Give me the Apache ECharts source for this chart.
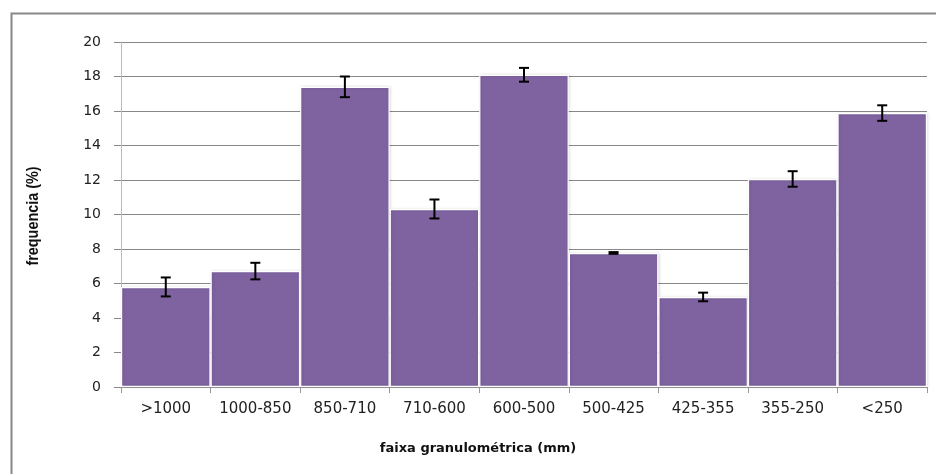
<!DOCTYPE html>
<html><head><meta charset="utf-8">
<script src="https://cdn.jsdelivr.net/npm/echarts@6/dist/echarts.min.js"></script>
<style>html,body{margin:0;padding:0;background:#fff}#c{width:936px;height:474px}</style>
</head><body><div id="c"></div>
<script>
const categories = ['>1000','1000-850','850-710','710-600','600-500','500-425','425-355','355-250','<250'];
const frequencia = [5.8, 6.72, 17.4, 10.32, 18.1, 7.77, 5.22, 12.06, 15.88];
const erro = [0.55, 0.48, 0.6, 0.55, 0.4, 0.05, 0.25, 0.45, 0.45];
const yTicks = [0, 2, 4, 6, 8, 10, 12, 14, 16, 18, 20];

const chart = echarts.init(document.getElementById('c'), null, {renderer: 'canvas'});
const errData = categories.map((c, i) => [i, frequencia[i] - erro[i], frequencia[i] + erro[i]]);
chart.setOption({
  animation: false,
  grid: {left: 121, right: 9, top: 42, bottom: 87},
  xAxis: {
    type: 'category', data: categories, boundaryGap: true,
    axisLine: {lineStyle: {color: '#999', width: 1}},
    axisTick: {show: true, interval: 0, length: 6, lineStyle: {color: '#999'}},
    axisLabel: {interval: 0, hideOverlap: false, color: '#222', fontFamily: 'DejaVu Sans', fontSize: 15, margin: 15}
  },
  yAxis: {
    type: 'value', min: yTicks[0], max: yTicks[yTicks.length - 1], interval: 2,
    axisLine: {show: true, lineStyle: {color: '#bbb', width: 1}},
    axisTick: {show: true, length: 7, lineStyle: {color: '#888'}},
    splitLine: {show: true, lineStyle: {color: '#888', width: 1}},
    axisLabel: {color: '#222', fontFamily: 'DejaVu Sans', fontSize: 14, margin: 20}
  },
  graphic: [
    {type: 'polyline', shape: {points: [[11.5, 480], [11.5, 13.5], [936, 13.5]]}, style: {stroke: '#888', lineWidth: 2, fill: null}, z: 0},
    {type: 'text', rotation: Math.PI / 2, scaleX: 0.9, x: 34, y: 216, style: {text: 'frequencia (%)', font: 'bold 16px "Liberation Sans Narrow", "Liberation Sans", sans-serif', fill: '#111', textAlign: 'center', textVerticalAlign: 'middle'}},
    {type: 'text', style: {text: 'faixa granulométrica (mm)', font: 'bold 13px "DejaVu Sans", sans-serif', fill: '#111', textAlign: 'center', textVerticalAlign: 'middle'}, x: 478, y: 449}
  ],
  series: [
    {
      type: 'bar', data: frequencia, barCategoryGap: '0%', barGap: '0%',
      itemStyle: {color: '#7F63A1', borderColor: '#fff', borderWidth: 1.2, shadowColor: 'rgba(0,0,0,0.15)', shadowBlur: 3, shadowOffsetX: 1}
    },
    {
      type: 'custom', data: errData, z: 5,
      renderItem: function (params, api) {
        const x = api.coord([api.value(0), 0])[0];
        const lo = api.coord([api.value(0), api.value(1)])[1];
        const hi = api.coord([api.value(0), api.value(2)])[1];
        const w = 5;
        const st = {stroke: '#000', lineWidth: 2};
        return {type: 'group', children: [
          {type: 'line', shape: {x1: x, y1: lo, x2: x, y2: hi}, style: st},
          {type: 'line', shape: {x1: x - w, y1: lo, x2: x + w, y2: lo}, style: st},
          {type: 'line', shape: {x1: x - w, y1: hi, x2: x + w, y2: hi}, style: st}
        ]};
      }
    }
  ]
});
</script></body></html>
